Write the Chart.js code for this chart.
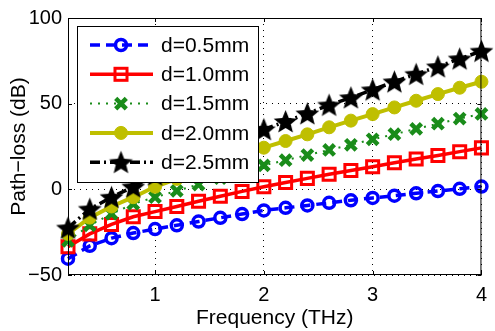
<!doctype html>
<html lang="en">
  <head>
    <meta charset="UTF-8" />
    <title>Path-loss vs Frequency</title>
    <script src="https://cdn.jsdelivr.net/npm/chart.js"></script>
    <style>
      body,
      html {
        margin: 0;
        padding: 0;
        background: #fff;
      }
      #wrap {
        width: 495px;
        height: 331px;
        position: relative;
      }
    </style>
  </head>
  <body>
    <div id="wrap">
      <canvas id="lossChart"></canvas>
    </div>
    <script>
      // Values (THz, dB)
      const freqs = [
        0.2, 0.4, 0.6, 0.8, 1.0, 1.2, 1.4, 1.6, 1.8, 2.0, 2.2, 2.4, 2.6, 2.8,
        3.0, 3.2, 3.4, 3.6, 3.8, 4.0,
      ];
      const loss05 = [
        -40.5, -33, -28.5, -25.5, -23.2, -21, -18.8, -16.6, -14.4, -12.3,
        -10.8, -9.4, -7.9, -6.4, -5, -3.7, -2.3, -1, 0.3, 1.6,
      ];
      const loss10 = [
        -33.5, -26, -20.5, -16, -13, -10, -7, -4, -1.2, 1.5, 4, 6.4, 8.8, 11,
        13.2, 15.5, 17.7, 19.8, 22, 24.2,
      ];
      const loss15 = [
        -30, -21, -14.3, -8.5, -4.6, -0.9, 2.8, 6.5, 10.2, 14, 17, 20, 23, 26,
        29.2, 32.2, 35.3, 38.3, 41.3, 44,
      ];
      const loss20 = [
        -26, -16.5, -10, -4.6, 1.5, 6.1, 10.6, 15.2, 19.8, 24.3, 28.2, 32.1,
        36.2, 40.1, 43.9, 47.8, 51.7, 55.6, 59.3, 62.8,
      ];
      const loss25 = [
        -22.5, -11.5, -4.6, 1.5, 8.5, 13.8, 19.1, 24.4, 29.8, 35, 39.6, 44.2,
        49.2, 53.5, 58.1, 62.8, 67.2, 71.6, 76.2, 80.7,
      ];
      const seriesNames = [
        "d=0.5mm",
        "d=1.0mm",
        "d=1.5mm",
        "d=2.0mm",
        "d=2.5mm",
      ];
      const xTicks = [1, 2, 3, 4];
      const yTicks = [-50, 0, 50, 100];

      const FONT = '"Liberation Sans", Arial, Helvetica, sans-serif';

      // filled five-point star used as a point image
      function makeStar(r, color) {
        const c = document.createElement("canvas");
        const s = Math.ceil(r * 2 + 2);
        c.width = s;
        c.height = s;
        const g = c.getContext("2d");
        g.translate(s / 2, s / 2 + 1);
        g.beginPath();
        for (let i = 0; i < 10; i++) {
          const rr = i % 2 ? r * 0.44 : r;
          const a = -Math.PI / 2 + (i * Math.PI) / 5;
          g.lineTo(rr * Math.cos(a), rr * Math.sin(a));
        }
        g.closePath();
        g.fillStyle = color;
        g.fill();
        return c;
      }
      const starImg = makeStar(12.5, "#000");

      const styles = [
        { color: "#0000ff", dash: [10, 6], width: 3.5, point: "circle", radius: 5.5, pw: 3.5, fill: "rgba(0,0,0,0)" },
        { color: "#ff0000", dash: [], width: 3.5, point: "rect", radius: 8.5, pw: 3, fill: "rgba(0,0,0,0)" },
        { color: "#1a8c1a", dash: [2, 6], width: 2, point: "crossRot", radius: 7.5, pw: 4.5, fill: "rgba(0,0,0,0)" },
        { color: "#bfbf00", dash: [], width: 4, point: "circle", radius: 6.5, pw: 1, fill: "#bfbf00" },
        { color: "#000000", dash: [10, 4, 2, 4], width: 3.5, point: starImg, radius: 12, pw: 0, fill: "#000" },
      ];
      const allLoss = [loss05, loss10, loss15, loss20, loss25];

      const datasets = allLoss.map((vals, i) => ({
        label: seriesNames[i],
        data: freqs.map((f, j) => ({ x: f, y: vals[j] })),
        borderColor: styles[i].color,
        borderWidth: styles[i].width,
        borderDash: styles[i].dash,
        pointStyle: styles[i].point,
        pointRadius: styles[i].radius,
        pointHoverRadius: styles[i].radius,
        pointBorderWidth: styles[i].pw,
        pointBorderColor: styles[i].color,
        pointBackgroundColor: styles[i].fill,
        tension: 0,
        fill: false,
        clip: false,
        order: 4 - i,
      }));

      // draw one legend marker the same way as on the plot
      function drawMarker(ctx, st, x, y) {
        ctx.save();
        ctx.setLineDash([]);
        ctx.strokeStyle = st.color;
        ctx.fillStyle = st.fill;
        ctx.lineWidth = st.pw;
        if (st.point === "circle") {
          ctx.beginPath();
          ctx.arc(x, y, st.radius, 0, Math.PI * 2);
          ctx.fill();
          ctx.stroke();
        } else if (st.point === "rect") {
          const h = Math.SQRT1_2 * st.radius;
          ctx.strokeRect(x - h, y - h, 2 * h, 2 * h);
        } else if (st.point === "crossRot") {
          const h = Math.SQRT1_2 * st.radius;
          ctx.beginPath();
          ctx.moveTo(x - h, y - h);
          ctx.lineTo(x + h, y + h);
          ctx.moveTo(x - h, y + h);
          ctx.lineTo(x + h, y - h);
          ctx.stroke();
        } else {
          ctx.drawImage(st.point, x - st.point.width / 2, y - st.point.height / 2);
        }
        ctx.restore();
      }

      const boxAndLegend = {
        id: "boxAndLegend",
        afterDatasetsDraw(chart) {
          const ctx = chart.ctx;
          const a = chart.chartArea;
          const xs = chart.scales.x;
          const ys = chart.scales.y;
          ctx.save();
          // axes box
          ctx.strokeStyle = "#000";
          ctx.lineWidth = 1;
          ctx.setLineDash([]);
          ctx.strokeRect(a.left + 0.5, a.top + 0.5, a.right - a.left - 1, a.bottom - a.top - 1);
          // small inward tick marks
          ctx.beginPath();
          xTicks.forEach((v) => {
            const px = Math.round(xs.getPixelForValue(v)) + 0.5;
            ctx.moveTo(px, a.bottom);
            ctx.lineTo(px, a.bottom - 4);
            ctx.moveTo(px, a.top);
            ctx.lineTo(px, a.top + 4);
          });
          yTicks.forEach((v) => {
            const py = Math.round(ys.getPixelForValue(v)) + 0.5;
            ctx.moveTo(a.left, py);
            ctx.lineTo(a.left + 4, py);
            ctx.moveTo(a.right, py);
            ctx.lineTo(a.right - 4, py);
          });
          ctx.stroke();

          // legend box
          const lx = a.left + 9;
          const ly = a.top + 8;
          const lw = 181;
          const lh = 156;
          ctx.fillStyle = "#fff";
          ctx.fillRect(lx, ly, lw, lh);
          ctx.strokeRect(lx + 0.5, ly + 0.5, lw, lh);
          ctx.font = "21px " + FONT;
          ctx.textBaseline = "middle";
          seriesNames.forEach((name, i) => {
            const st = styles[i];
            const y = ly + 19 + i * 29.3;
            ctx.save();
            ctx.strokeStyle = st.color;
            ctx.lineWidth = st.width;
            ctx.setLineDash(st.dash);
            ctx.beginPath();
            ctx.moveTo(lx + 13, y);
            ctx.lineTo(lx + 76, y);
            ctx.stroke();
            ctx.restore();
            drawMarker(ctx, st, lx + 44, y);
            ctx.fillStyle = "#000";
            ctx.fillText(name, lx + 84, y + 1);
          });
          ctx.restore();
        },
      };

      new Chart(document.getElementById("lossChart"), {
        type: "line",
        data: { datasets: datasets },
        plugins: [boxAndLegend],
        options: {
          responsive: true,
          maintainAspectRatio: false,
          animation: false,
          events: [],
          layout: { padding: { top: 16, right: 6, bottom: 0, left: 0 } },
          plugins: {
            legend: { display: false },
            tooltip: { enabled: false },
          },
          scales: {
            x: {
              type: "linear",
              min: 0.2,
              max: 4,
              afterBuildTicks: (s) => {
                s.ticks = xTicks.map((v) => ({ value: v }));
              },
              afterFit: (s) => {
                s.height = 56;
              },
              ticks: {
                color: "#000",
                font: { family: FONT, size: 20 },
                padding: 8,
                maxRotation: 0,
                autoSkip: false,
              },
              grid: { color: "#000", lineWidth: 1, drawTicks: false },
              border: { display: false, dash: [1, 5] },
              title: {
                display: true,
                text: "Frequency (THz)",
                color: "#000",
                font: { family: FONT, size: 21 },
                padding: { top: 0, bottom: 0 },
              },
            },
            y: {
              min: -50,
              max: 100,
              afterBuildTicks: (s) => {
                s.ticks = yTicks.map((v) => ({ value: v }));
              },
              afterFit: (s) => {
                s.width = 68;
              },
              ticks: {
                color: "#000",
                font: { family: FONT, size: 20 },
                padding: 6,
                callback: (v) => String(v).replace("-", "\u2212"),
              },
              grid: { color: "#000", lineWidth: 1, drawTicks: false },
              border: { display: false, dash: [1, 5] },
              title: {
                display: true,
                text: "Path\u2212loss (dB)",
                color: "#000",
                font: { family: FONT, size: 21 },
                padding: { top: 7, bottom: 0 },
              },
            },
          },
        },
      });
    </script>
  </body>
</html>
